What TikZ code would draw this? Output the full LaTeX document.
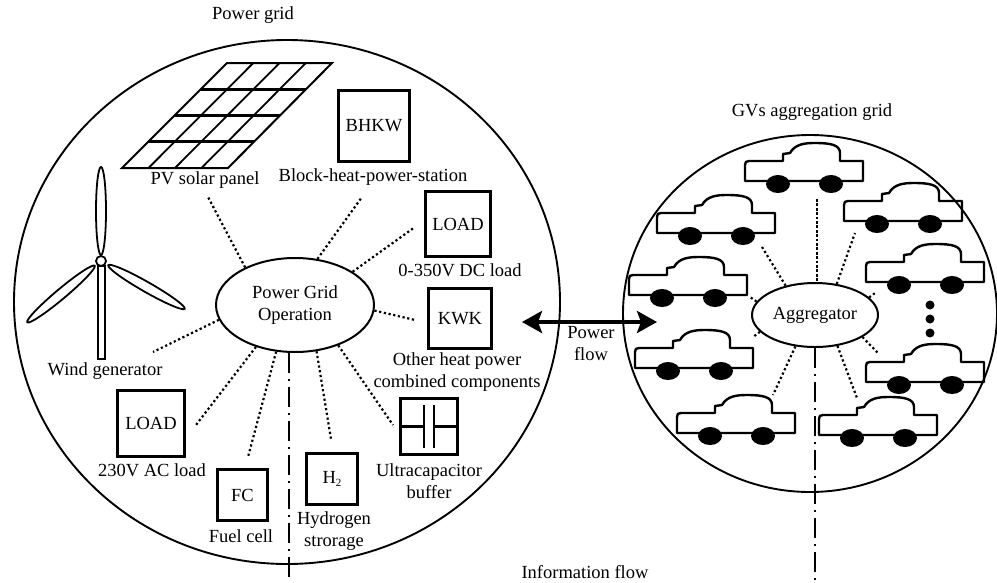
\documentclass[tikz,border=0pt]{standalone}
\usepackage{fontspec}
\setmainfont{Liberation Serif}
\usetikzlibrary{shapes.geometric,arrows.meta}
\begin{document}
\begin{tikzpicture}[x=1pt,y=-1pt,
  every node/.style={font=\fontsize{18.5}{22}\selectfont, inner sep=0pt},
  rim/.style={line width=1.9pt},
  unit/.style={draw, rectangle, line width=3.1pt},
  hub/.style={draw, ellipse, line width=2pt},
  link/.style={line width=2.2pt, dash pattern=on 2.2pt off 2.6pt},
  feed/.style={line width=2.8pt, dash pattern=on 2.8pt off 1.6pt},
  infoline/.style={line width=2.6pt, dash pattern=on 20pt off 6pt on 2pt off 6pt},
  blade/.style={line width=1.8pt},
  ev/.pic={
    \draw[line width=2.4pt, line join=round]
      (0,0) -- (0,-16) .. controls (0,-19) and (1,-20) .. (4,-20)
      -- (38,-20) -- (38,-27) -- (45,-28)
      .. controls (50,-37) and (60,-38) .. (70,-38)
      .. controls (86,-38) and (95,-36) .. (95,-28)
      -- (95,-20) -- (118,-20) -- (118,0) -- cycle;
    \fill (33,3) ellipse [x radius=12pt, y radius=9pt];
    \fill (86,3) ellipse [x radius=12pt, y radius=9pt];
  }
]
\useasboundingbox (0,0) rectangle (997,582);
\fill[white] (0,0) rectangle (997,582);

% the two grids
\draw[rim] (287,302) ellipse [x radius=273pt, y radius=262pt];
\draw[rim] (810,313.5) ellipse [x radius=187pt, y radius=178.5pt];
\node (lblgrid) at (253,15) {Power grid};
\node (lblgv) at (812,112) {GVs aggregation grid};

% ---------------- power grid ----------------
\node[hub, minimum width=158pt, minimum height=94pt, align=center] (pgo) at (295,305) {Power Grid\\Operation};

% PV panel
\draw[line width=2pt] (227,63) -- (332,63) -- (228,168) -- (122,168) -- cycle;
\foreach \k in {1,2,3} {
  \draw[line width=1.8pt] (227+26.25*\k,63) -- (122+26.5*\k,168);
  \draw[line width=2.6pt] (227-26.25*\k,63+26.25*\k) -- (332-26*\k,63+26.25*\k);
}
\node (lblsolar) at (205,180) {PV solar panel};

% wind generator
\draw[line width=2pt] (98,266) rectangle (105,359);
\draw[blade] (101,211) ellipse [x radius=5pt, y radius=44pt];
\begin{scope}[shift={(61,294)}, rotate=40]
  \draw[blade] (0,0) ellipse [x radius=44pt, y radius=5pt];
\end{scope}
\begin{scope}[shift={(146.5,287)}, rotate=-29.7]
  \draw[blade] (0,0) ellipse [x radius=44pt, y radius=5pt];
\end{scope}
\draw[line width=1.8pt, fill=white] (101,261) circle [radius=5pt];
\node (lblwind) at (105,371) {Wind generator};

% components
\node[unit, minimum width=71pt, minimum height=71pt] (bhkw) at (374,126) {BHKW};
\node (lblbhkw) at (373,177) {Block-heat-power-station};
\node[unit, minimum width=65pt, minimum height=65pt] (dcload) at (458,224) {LOAD};
\node (lbldc) at (460,270) {0-350V DC load};
\node[unit, minimum width=63pt, minimum height=60pt] (kwk) at (460,318.5) {KWK};
\node[align=center] (lblkwk) at (457,372) {Other heat power\\combined components};
\node[unit, minimum width=57pt, minimum height=56pt] (ucap) at (429,426.5) {};
\draw[line width=2.8pt] (424,405) -- (424,448) (434,405) -- (434,448);
\draw[line width=2.8pt] (ucap.west) -- (424,426.5) (434,426.5) -- (ucap.east);
\node[align=center] (lblucap) at (429,481.5) {Ultracapacitor\\buffer};
\node[unit, minimum width=51pt, minimum height=51pt] (h2) at (332,479) {H\raisebox{-0.35ex}{\fontsize{11}{11}\selectfont 2}};
\node[align=center] (lblh2) at (334,531.5) {Hydrogen\\strorage};
\node[unit, minimum width=50pt, minimum height=51pt] (fc) at (242.5,495) {FC};
\node (lblfc) at (241,536) {Fuel cell};
\node[unit, minimum width=67pt, minimum height=66pt] (acload) at (151,423.5) {LOAD};
\node (lblac) at (152,470) {230V AC load};

% links to the operation centre
\coordinate (eSolar) at (208,197);
\coordinate (eBhkw) at (362,197);
\coordinate (eDc) at (415,227);
\coordinate (eKwk) at (415,320);
\coordinate (eUcap) at (393,425);
\coordinate (eH2) at (331,439);
\coordinate (eFc) at (248,457);
\coordinate (eAc) at (196,425);
\coordinate (eWind) at (153,352);
\draw[link] (pgo.143.5) -- (eSolar);
\draw[link] (pgo.64) -- (eBhkw);
\draw[link] (pgo.30) -- (eDc);
\draw[link] (pgo.-4) -- (eKwk);
\draw[link] (pgo.-43) -- (eUcap);
\draw[link] (pgo.-65) -- (eH2);
\draw[link] (pgo.-112.6) -- (eFc);
\draw[link] (pgo.-133.7) -- (eAc);
\draw[link] (pgo.-169) -- (eWind);

% ---------------- vehicle aggregation ----------------
\node[hub, minimum width=126pt, minimum height=64pt] (agg) at (815,315) {Aggregator};
\pic (car1) at (745,181) {ev};
\pic (car2) at (657,233) {ev};
\pic (car3) at (844,221) {ev};
\pic (car4) at (629,295) {ev};
\pic (car5) at (866,282) {ev};
\pic (car6) at (635,368) {ev};
\pic (car7) at (866,382) {ev};
\pic (car8) at (677,433) {ev};
\pic (car9) at (819,435) {ev};
\fill (930,305) circle [radius=4.5pt] (930,319) circle [radius=4.5pt] (930,333) circle [radius=4.5pt];

\coordinate (feedTop) at (817,199);
\draw[feed] (feedTop) -- (agg.north -| feedTop);
\coordinate (g2) at (762,247);
\coordinate (g3) at (855,233);
\coordinate (g4) at (750,297);
\coordinate (g5) at (875,293);
\coordinate (g6) at (753,337);
\coordinate (g7) at (878,353);
\coordinate (g8) at (773,395);
\coordinate (g9) at (857,398);
\draw[link] (agg.135) -- (g2);
\draw[link] (agg.55.5) -- (g3);
\draw[link] (agg.167) -- (g4);
\draw[link] (agg.18) -- (g5);
\draw[link] (agg.-163) -- (g6);
\draw[link] (agg.-25.7) -- (g7);
\draw[link] (agg.-122) -- (g8);
\draw[link] (agg.-54) -- (g9);

% ---------------- flows ----------------
\coordinate (pfL) at (522,322);
\coordinate (pfR) at (657,322);
\draw[line width=4.2pt, {Stealth[length=20pt,width=22pt,inset=4pt]}-{Stealth[length=20pt,width=22pt,inset=4pt]}] (pfL) -- (pfR);
\node[align=center] (lblpf) at (591,344) {Power\\flow};

\coordinate (infoL) at (289,582);
\coordinate (infoR) at (815,582);
\draw[infoline] (pgo.south -| infoL) -- (infoL);
\draw[infoline] (agg.south) -- (infoR);
\node (lblinfo) at (585,572) {Information flow};
\end{tikzpicture}
\end{document}
